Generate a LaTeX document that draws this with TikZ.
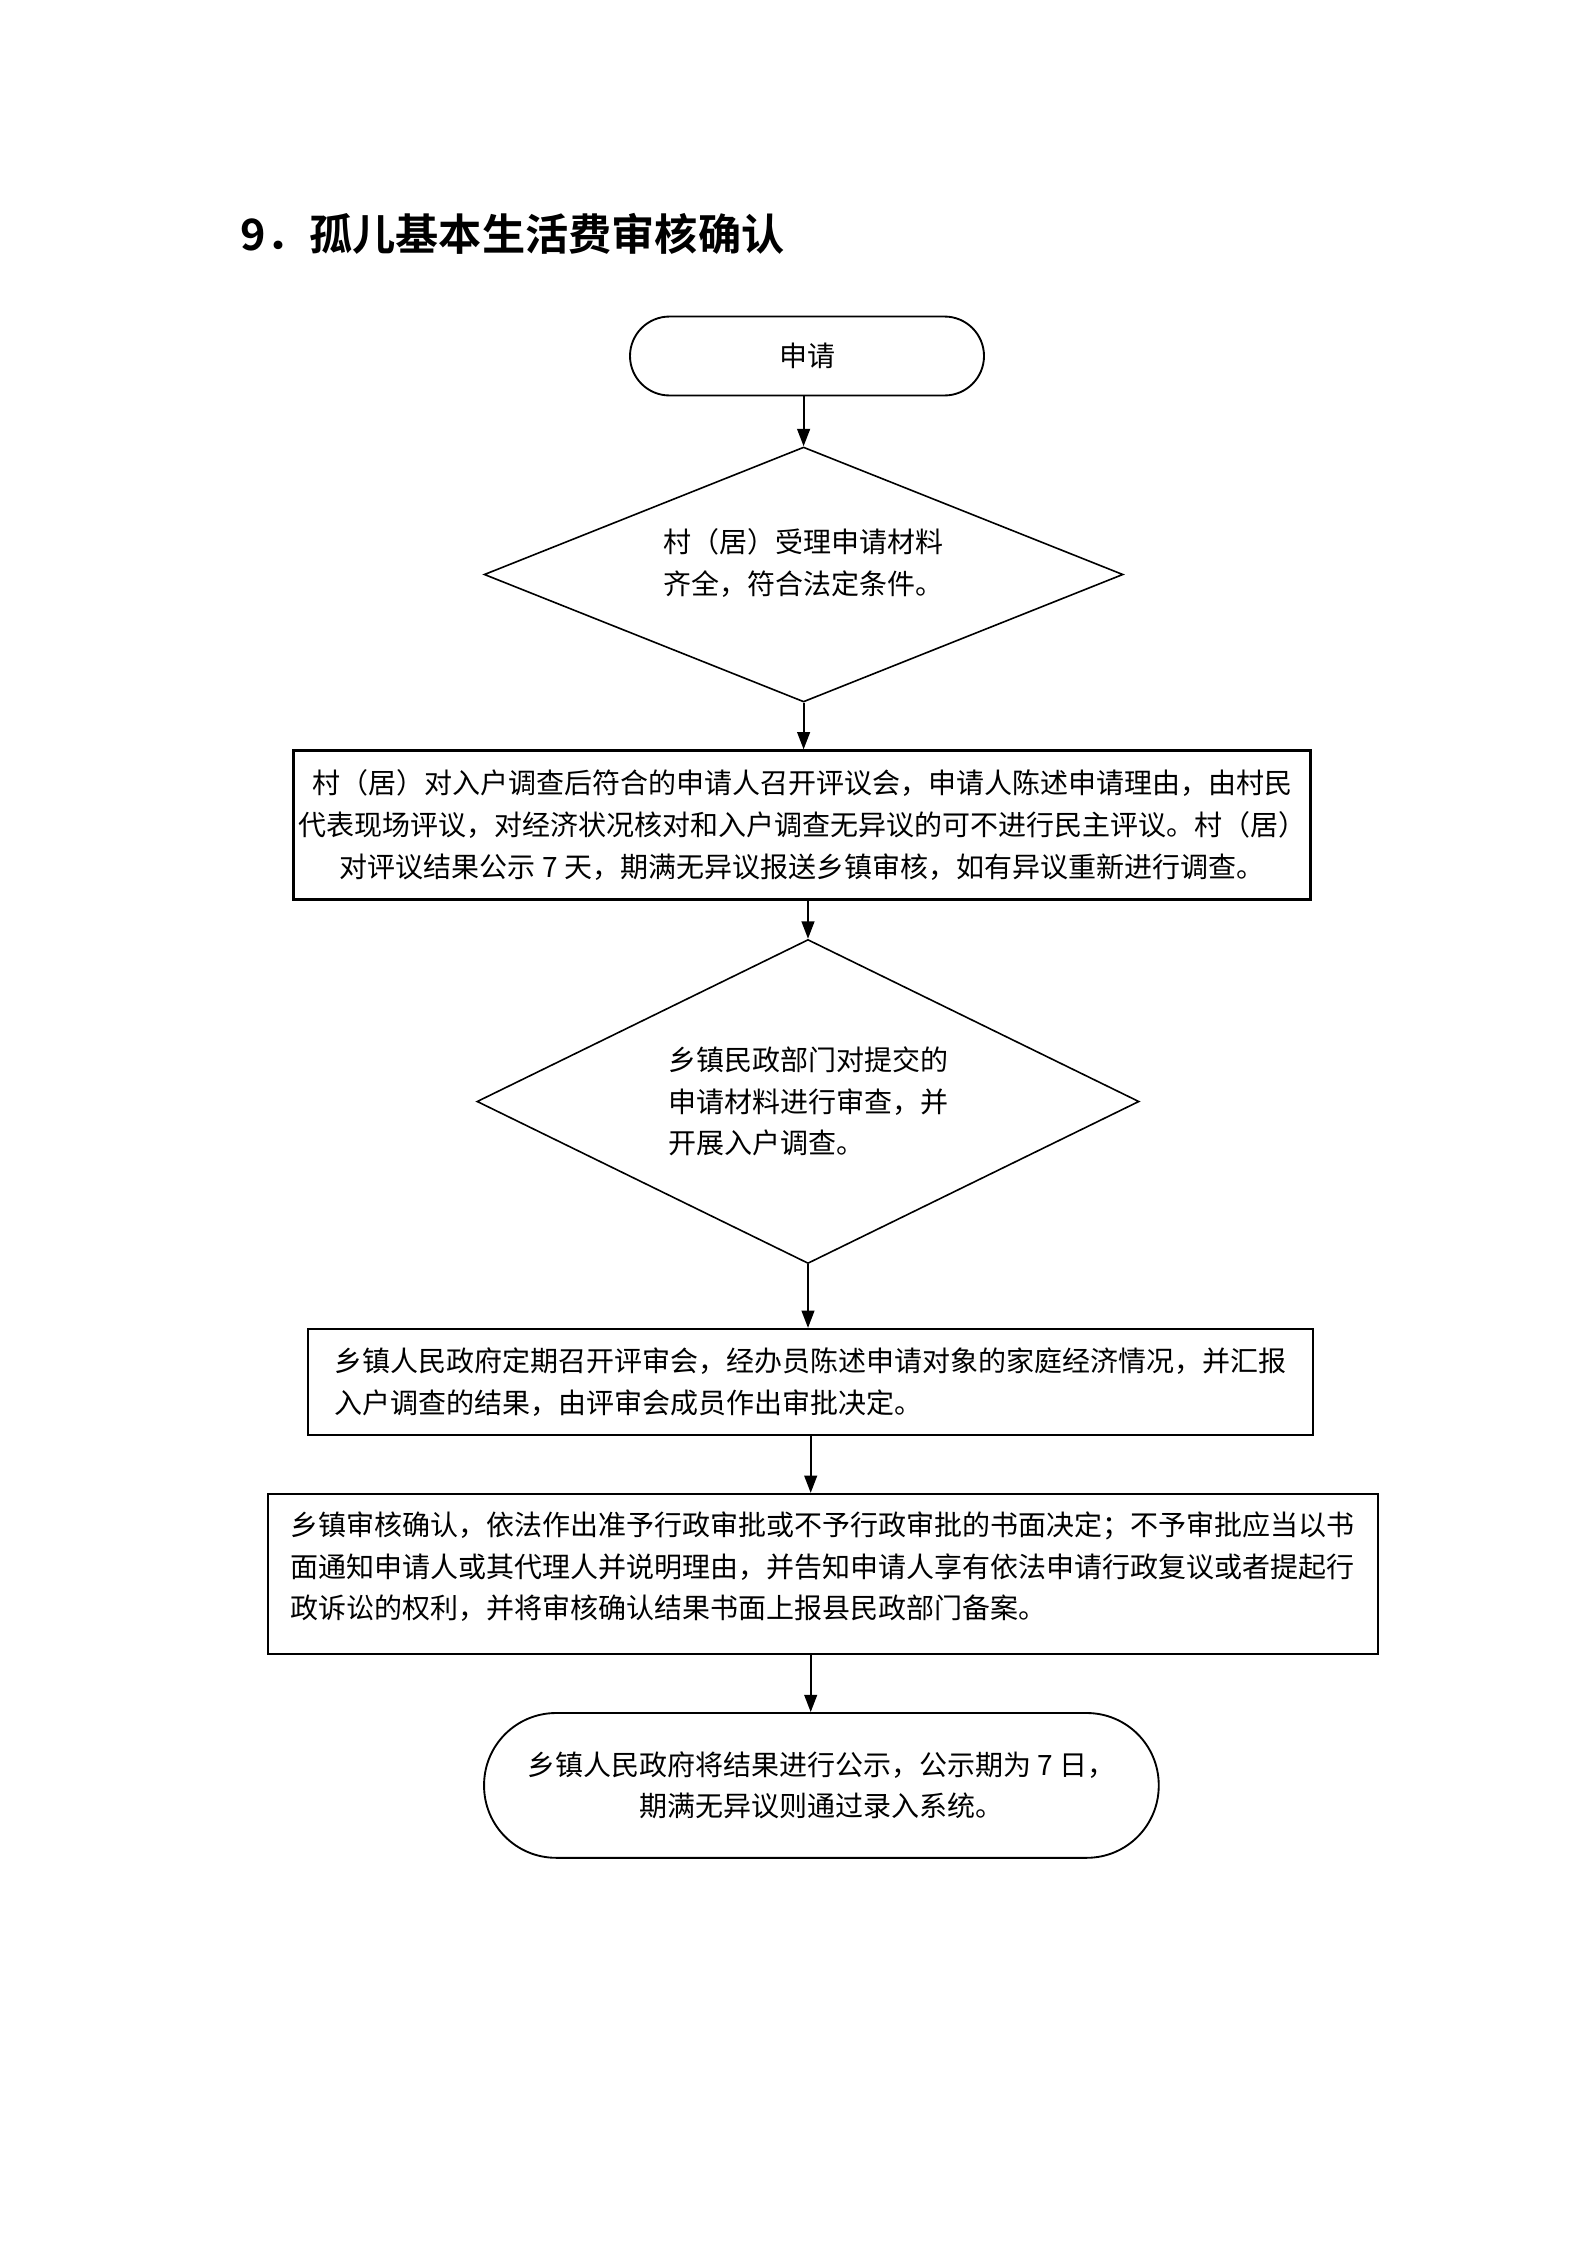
\documentclass[tikz,border=0pt]{standalone}
\usepackage{fontspec}
\setmainfont{Noto Sans CJK SC}
\newfontfamily\cjk{Noto Sans CJK SC}
\newfontfamily\cjkb{Noto Sans CJK SC Bold}
\usetikzlibrary{shapes.geometric,arrows.meta}
\begin{document}
\begin{tikzpicture}[x=0.375pt,y=-0.375pt,
  every node/.style={font=\cjk\fontsize{10.5pt}{15.6pt}\selectfont, inner sep=0pt},
  boxnode/.style={draw, line width=0.85pt, rectangle},
  termnode/.style={draw, line width=0.7pt, rectangle, rounded corners=#1},
  dianode/.style={draw, line width=0.6pt, diamond, shape aspect=2, inner sep=0pt},
  arr/.style={line width=0.7pt, -{Triangle[length=6.5pt,width=4.8pt]}}]
\useasboundingbox (0,0) rectangle (1587,2245);

\node[anchor=west, font=\cjkb\fontsize{16.2pt}{20pt}\selectfont] (title) at (240,233.5) {9．孤儿基本生活费审核确认};

\node[termnode=14.8pt, minimum width=132.75pt, minimum height=29.6pt] (s) at (807,356) {申请};

\node[dianode, minimum width=239.6pt, minimum height=95.6pt] (d1) at (803.6,574.5) {};
\node[align=center] (d1t) at (803.6,563) {村（居）受理申请材料\\齐全，符合法定条件。};

\node[boxnode, minimum width=381.4pt, minimum height=55.9pt, align=center] (b1) at (802,825)
 {村（居）对入户调查后符合的申请人召开评议会，申请人陈述申请理由，由村民\\
  代表现场评议，对经济状况核对和入户调查无异议的可不进行民主评议。村（居）\\
  对评议结果公示 7 天，期满无异议报送乡镇审核，如有异议重新进行调查。};

\node[dianode, minimum width=248.3pt, minimum height=121.5pt, align=left] (d2) at (808,1101.5)
 {乡镇民政部门对提交的\\申请材料进行审查，并\\开展入户调查。};

\node[boxnode, minimum width=376.9pt, minimum height=39.75pt, align=left] (b2) at (810.7,1382)
 {乡镇人民政府定期召开评审会，经办员陈述申请对象的家庭经济情况，并汇报\\
  入户调查的结果，由评审会成员作出审批决定。};

\node[boxnode, minimum width=416.25pt, minimum height=60pt] (b3) at (822.9,1574) {};
\node[align=left] (b3t) at (822.9,1567)
 {乡镇审核确认，依法作出准予行政审批或不予行政审批的书面决定；不予审批应当以书\\
  面通知申请人或其代理人并说明理由，并告知申请人享有依法申请行政复议或者提起行\\
  政诉讼的权利，并将审核确认结果书面上报县民政部门备案。};

\node[termnode=27pt, minimum width=253pt, minimum height=54.3pt, align=center] (e) at (821.4,1785.4)
 {乡镇人民政府将结果进行公示，公示期为 7 日，\\期满无异议则通过录入系统。};

\coordinate (ax) at (810.7,0);
\draw[arr] (d1.north |- s.south) -- (d1.north);
\draw[arr] (d1.south) -- (d1.south |- b1.north);
\draw[arr] (d2.north |- b1.south) -- (d2.north);
\draw[arr] (d2.south) -- (d2.south |- b2.north);
\draw[arr] (ax |- b2.south) -- (ax |- b3.north);
\draw[arr] (ax |- b3.south) -- (ax |- e.north);
\end{tikzpicture}
\end{document}
